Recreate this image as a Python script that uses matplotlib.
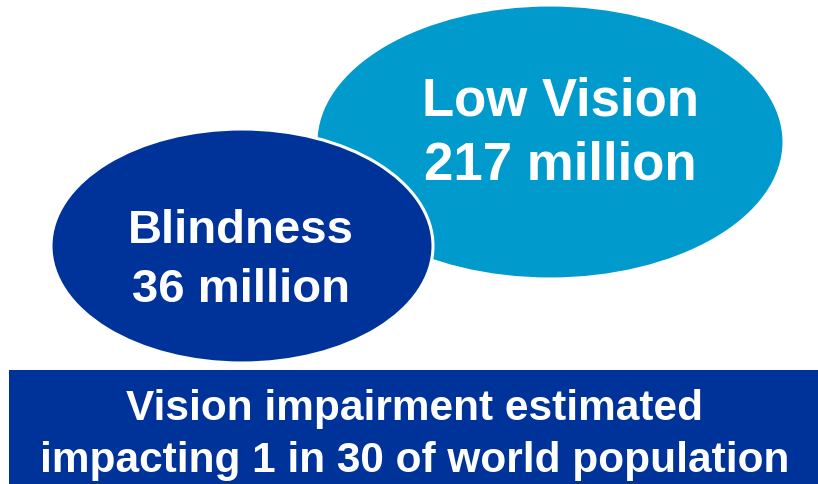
import matplotlib.pyplot as plt
from matplotlib.patches import Ellipse, Rectangle

# groups and their counts (millions)
groups = ['Low Vision', 'Blindness']
counts = [217, 36]
colors = ['#009ACD', '#003399']
footer = ['Vision impairment estimated', 'impacting 1 in 30 of world population']

plt.rcParams['font.family'] = ['Liberation Sans', 'DejaVu Sans']

fig = plt.figure(figsize=(8.18, 4.84), dpi=100)
ax = fig.add_axes([0, 0, 1, 1])
ax.set_xlim(0, 818)
ax.set_ylim(484, 0)
ax.axis('off')

# bubble geometry (center x, center y, width, height) in pixels
bubbles = [(550, 142, 468, 274), (242, 246, 382, 234)]
text_y = [(102, 166), (231, 290)]
text_x = [560, 241]
sizes = [38, 34]

for i, (name, n) in enumerate(zip(groups, counts)):
    cx, cy, w, h = bubbles[i]
    ax.add_patch(Ellipse((cx, cy), w, h, facecolor=colors[i],
                         edgecolor='white', linewidth=2.2, zorder=i + 1))
    ax.text(text_x[i], text_y[i][0], name, color='white', fontsize=sizes[i],
            fontweight='bold', ha='center', va='center', zorder=5)
    ax.text(text_x[i], text_y[i][1], f'{n} million', color='white', fontsize=sizes[i],
            fontweight='bold', ha='center', va='center', zorder=5)

ax.add_patch(Rectangle((9, 370), 818 - 9, 114, facecolor='#003399',
                       edgecolor='none', zorder=3))
for line, y in zip(footer, [409, 461]):
    ax.text(415, y, line, color='white', fontsize=30.5, fontweight='bold',
            ha='center', va='center', zorder=5)

fig.savefig('out.png', dpi=100)
